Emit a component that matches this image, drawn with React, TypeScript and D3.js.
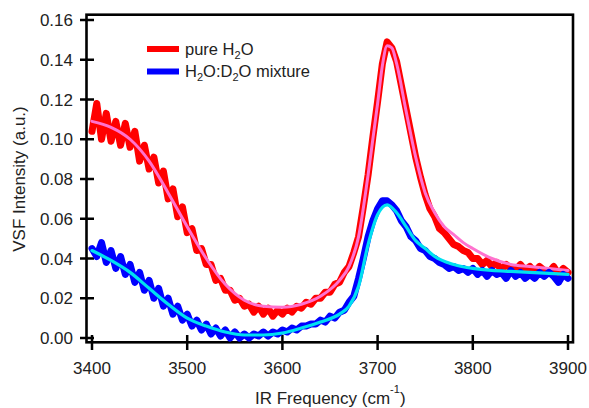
import React, { useEffect, useRef } from 'react';
import * as d3 from 'd3';

// sampled spectra, 5 cm-1 grid from 3400 to 3900
const dataFreqs = d3.range(3400, 3901, 5);

const pureH2O = [
  0.104, 0.118, 0.100, 0.113, 0.099, 0.109, 0.097, 0.108, 0.096, 0.104,
  0.089, 0.097, 0.085, 0.091, 0.078, 0.084, 0.070, 0.075, 0.061, 0.066,
  0.053, 0.055, 0.044, 0.045, 0.037, 0.037, 0.029, 0.030, 0.024, 0.024,
  0.019, 0.020, 0.016, 0.017, 0.013, 0.016, 0.012, 0.015, 0.011, 0.014,
  0.012, 0.015, 0.013, 0.016, 0.015, 0.018, 0.017, 0.020, 0.020, 0.023,
  0.023, 0.027, 0.028, 0.033, 0.036, 0.043, 0.051, 0.066, 0.082, 0.101,
  0.119, 0.138, 0.149, 0.146, 0.139, 0.127, 0.115, 0.103, 0.091, 0.081,
  0.072, 0.065, 0.061, 0.055, 0.053, 0.050, 0.047, 0.046, 0.044, 0.043,
  0.040, 0.040, 0.037, 0.039, 0.036, 0.038, 0.034, 0.037, 0.035, 0.034,
  0.037, 0.034, 0.036, 0.033, 0.036, 0.034, 0.033, 0.036, 0.032, 0.035,
  0.033
];

const mixture = [
  0.045, 0.041, 0.048, 0.038, 0.044, 0.035, 0.041, 0.032, 0.037, 0.028,
  0.033, 0.024, 0.029, 0.020, 0.025, 0.016, 0.020, 0.012, 0.016, 0.009,
  0.012, 0.006, 0.009, 0.004, 0.007, 0.002, 0.005, 0.001, 0.004, 0.000,
  0.003, 0.000, 0.002, 0.000, 0.002, 0.001, 0.003, 0.001, 0.003, 0.002,
  0.004, 0.003, 0.005, 0.004, 0.006, 0.006, 0.007, 0.007, 0.009, 0.008,
  0.011, 0.010, 0.013, 0.014, 0.018, 0.021, 0.030, 0.040, 0.051, 0.059,
  0.065, 0.069, 0.069, 0.067, 0.064, 0.059, 0.056, 0.051, 0.049, 0.045,
  0.044, 0.041, 0.040, 0.038, 0.037, 0.035, 0.036, 0.034, 0.035, 0.033,
  0.035, 0.032, 0.034, 0.031, 0.034, 0.032, 0.033, 0.030, 0.034, 0.031,
  0.033, 0.030, 0.032, 0.030, 0.033, 0.031, 0.033, 0.031, 0.028, 0.032,
  0.030
];

// fitted curves
const pureFitFreqs = [3400, 3420, 3440, 3460, 3480, 3500, 3520, 3540, 3560, 3580, 3600, 3620, 3640, 3660, 3670, 3680, 3690, 3700, 3705, 3710, 3715, 3720, 3730, 3740, 3750, 3760, 3770, 3780, 3790, 3800, 3820, 3840, 3860, 3880, 3900];
const pureFit = [0.109, 0.106, 0.100, 0.089, 0.073, 0.056, 0.040, 0.027, 0.019, 0.016, 0.0155, 0.017, 0.021, 0.029, 0.036, 0.051, 0.082, 0.118, 0.137, 0.147, 0.146, 0.138, 0.114, 0.091, 0.073, 0.063, 0.056, 0.052, 0.048, 0.045, 0.040, 0.037, 0.036, 0.035, 0.034];

const mixFitFreqs = [3400, 3420, 3440, 3460, 3480, 3500, 3520, 3540, 3560, 3580, 3600, 3620, 3640, 3660, 3670, 3680, 3690, 3700, 3710, 3720, 3730, 3740, 3750, 3760, 3780, 3800, 3820, 3840, 3860, 3880, 3900];
const mixFit = [0.044, 0.039, 0.033, 0.025, 0.017, 0.010, 0.006, 0.003, 0.0015, 0.0015, 0.0025, 0.005, 0.008, 0.012, 0.016, 0.026, 0.047, 0.062, 0.067, 0.063, 0.056, 0.049, 0.045, 0.041, 0.037, 0.035, 0.034, 0.0335, 0.033, 0.0325, 0.032];

const xTicks = [3400, 3500, 3600, 3700, 3800, 3900];
const yTicks = [0, 0.02, 0.04, 0.06, 0.08, 0.10, 0.12, 0.14, 0.16];

function App() {
  const ref = useRef<SVGSVGElement>(null);

  useEffect(() => {
    const width = 589, height = 408;
    const frame = { left: 86.5, right: 573, top: 14.7, bottom: 342.3 };
    const font = "'Liberation Sans', Arial, sans-serif";

    const svg = d3.select(ref.current);
    svg.selectAll("*").remove();

    const x = d3.scaleLinear().domain([3400, 3900]).range([92, 568]);
    const y = d3.scaleLinear().domain([0, 0.16]).range([338, 20]);

    // frame
    svg.append("rect")
      .attr("x", frame.left).attr("y", frame.top)
      .attr("width", frame.right - frame.left)
      .attr("height", frame.bottom - frame.top)
      .attr("fill", "none")
      .attr("stroke", "#000")
      .attr("stroke-width", 2.6);

    // y axis ticks + labels
    const yAxis = svg.append("g").attr("font-family", font).attr("font-size", 17);
    yAxis.selectAll("line")
      .data(yTicks)
      .join("line")
      .attr("x1", 80).attr("x2", 94)
      .attr("y1", d => y(d)).attr("y2", d => y(d))
      .attr("stroke", "#000").attr("stroke-width", 2.5);
    yAxis.selectAll("text")
      .data(yTicks)
      .join("text")
      .attr("x", 73)
      .attr("y", d => y(d) + 6)
      .attr("text-anchor", "end")
      .attr("fill", "#222")
      .text(d => d3.format(".2f")(d));

    // x axis ticks + labels
    const xAxis = svg.append("g").attr("font-family", font).attr("font-size", 17);
    xAxis.selectAll("line")
      .data(xTicks)
      .join("line")
      .attr("x1", d => x(d)).attr("x2", d => x(d))
      .attr("y1", 335).attr("y2", 350)
      .attr("stroke", "#000").attr("stroke-width", 2.5);
    xAxis.selectAll("text")
      .data(xTicks)
      .join("text")
      .attr("x", d => x(d))
      .attr("y", 374)
      .attr("text-anchor", "middle")
      .attr("fill", "#222")
      .text(d => d);

    // axis titles
    const xt = svg.append("text")
      .attr("x", 255).attr("y", 404)
      .attr("font-family", font).attr("font-size", 17).attr("fill", "#222");
    xt.append("tspan").text("IR Frequency (cm");
    xt.append("tspan").attr("dy", -11).attr("font-size", 11).text("-1");
    xt.append("tspan").attr("dy", 11).text(")");

    svg.append("text")
      .attr("transform", `translate(25,${(20 + 338) / 2}) rotate(-90)`)
      .attr("text-anchor", "middle")
      .attr("font-family", font).attr("font-size", 17).attr("fill", "#222")
      .text("VSF Intensity (a.u.)");

    // data + fits
    const raw = d3.line<number>()
      .x((d, i) => x(dataFreqs[i]))
      .y(d => y(d));
    const fit = (freqs: number[]) => d3.line<number>()
      .x((d, i) => x(freqs[i]))
      .y(d => y(d))
      .curve(d3.curveMonotoneX);

    const plot = svg.append("g")
      .attr("fill", "none")
      .attr("stroke-linejoin", "round")
      .attr("stroke-linecap", "round");

    plot.append("path").attr("d", raw(pureH2O))
      .attr("stroke", "#ff0000").attr("stroke-width", 7);
    plot.append("path").attr("d", fit(pureFitFreqs)(pureFit))
      .attr("stroke", "#ff72cf").attr("stroke-width", 3);
    plot.append("path").attr("d", raw(mixture))
      .attr("stroke", "#0000ff").attr("stroke-width", 7);
    plot.append("path").attr("d", fit(mixFitFreqs)(mixFit))
      .attr("stroke", "#00e0f0").attr("stroke-width", 3.2);

    // legend
    const legend = svg.append("g").attr("font-family", font).attr("font-size", 16.5).attr("fill", "#222");
    legend.append("line").attr("x1", 147).attr("x2", 179).attr("y1", 49).attr("y2", 49)
      .attr("stroke", "#ff0000").attr("stroke-width", 6);
    legend.append("line").attr("x1", 147).attr("x2", 179).attr("y1", 71.5).attr("y2", 71.5)
      .attr("stroke", "#0000ff").attr("stroke-width", 6);

    const t1 = legend.append("text").attr("x", 185).attr("y", 55);
    t1.append("tspan").text("pure H");
    t1.append("tspan").attr("dy", 4).attr("font-size", 11).text("2");
    t1.append("tspan").attr("dy", -4).text("O");

    const t2 = legend.append("text").attr("x", 185).attr("y", 77);
    t2.append("tspan").text("H");
    t2.append("tspan").attr("dy", 4).attr("font-size", 11).text("2");
    t2.append("tspan").attr("dy", -4).text("O:D");
    t2.append("tspan").attr("dy", 4).attr("font-size", 11).text("2");
    t2.append("tspan").attr("dy", -4).text("O mixture");

    svg.attr("width", width).attr("height", height);
  }, []);

  return (
    <svg ref={ref} width={589} height={408}
      style={{ position: 'absolute', left: 0, top: 0, background: '#fff' }} />
  );
}

export default App;
